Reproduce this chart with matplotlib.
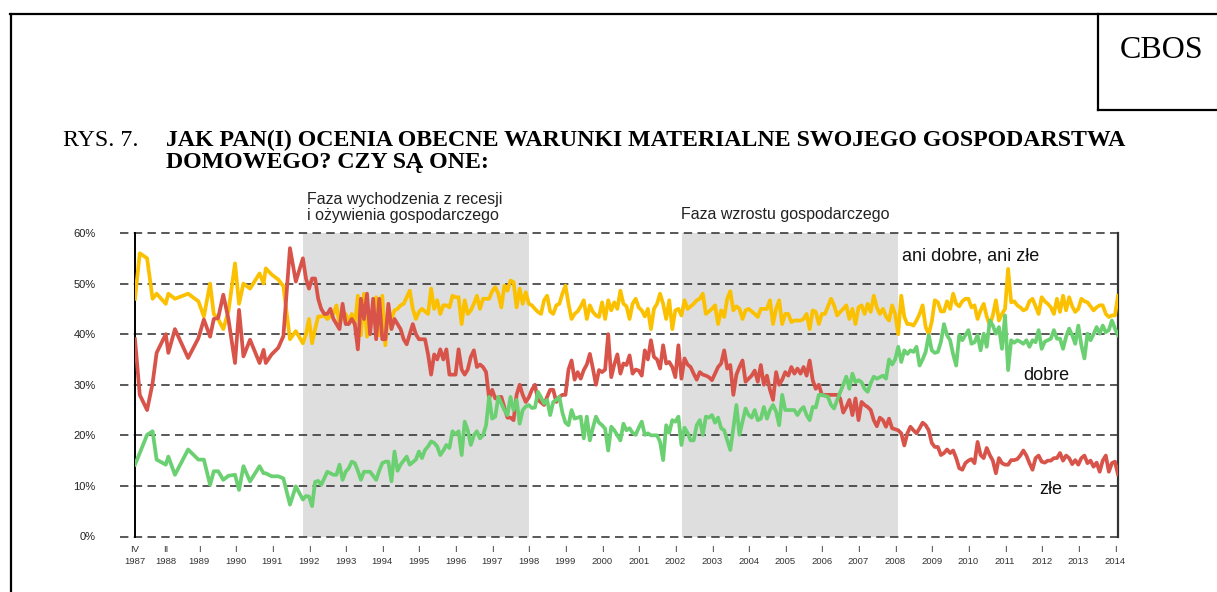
import numpy as np
import matplotlib
matplotlib.use("Agg")
import matplotlib.pyplot as plt
from matplotlib.lines import Line2D

plt.rcParams["font.family"] = ["Liberation Sans", "DejaVu Sans"]

# ── Dane: wczesne badania (nieregularne terminy) ─────────────
early_dates = [1987.25, 1987.38, 1987.58, 1987.73, 1987.84, 1988.09, 1988.16,
               1988.34, 1988.70, 1988.98, 1989.13, 1989.30, 1989.40, 1989.52,
               1989.66, 1989.80, 1989.98, 1990.09, 1990.21, 1990.39, 1990.65,
               1990.76, 1990.82, 1990.98, 1991.16, 1991.30, 1991.48, 1991.64]
early_ani = [47, 56, 55, 47, 48, 46, 48, 47, 48, 46.5, 43.5, 50, 44, 43,
             41, 44.5, 54, 46, 50, 49, 52, 50, 53, 51.8, 50.8, 49.5, 39, 40.6]
early_zle = [39, 28, 25, 30.3, 36.3, 40, 36.3, 41, 35.3, 39.2, 42.9, 39.5, 43, 43.2,
             47.8, 43, 34.3, 44.8, 35.6, 38.9, 34.3, 36.9, 34.3, 36, 37.3, 39.6, 57, 50.4]
early_dobre = [14.2, 16.5, 20.1, 20.8, 15.2, 14.2, 15.8, 12.2, 17.2, 15.2, 15.2, 10.2, 12.9, 12.9,
               11.2, 12, 12.2, 9.2, 13.9, 10.9, 13.9, 12.5, 12.5, 11.9, 11.9, 11.5, 6.3, 9.9]

# ── Dane miesięczne: od XI 1991 do II 2014 ───────────────────
monthly_start = "1991-11"
ani_monthly = [
    38.2, 40,
    43, 38.2, 41, 43.5, 43.5, 43.7, 43, 43.5, 44, 45.7, 42, 43.7,            # 1992
    44, 42.4, 44, 41.7, 47.6, 39.8, 48, 39.5, 41, 44, 47.3, 39.8,            # 1993
    47.6, 37.8, 45, 43, 44.7, 45, 45.7, 46, 47.3, 48.6, 45, 43,              # 1994
    44.4, 45, 44.5, 44, 49, 45, 46.7, 44, 45.7, 45.7, 45.3, 47.6,            # 1995
    47.3, 47.3, 42, 46.7, 44, 44.7, 46, 47.6, 45, 47, 47, 47,                # 1996
    48.5, 49.3, 48, 45.3, 49.6, 48.6, 50.6, 50.3, 45.3, 49, 46, 48.3,        # 1997
    46, 45.7, 45, 44.4, 44, 46.7, 47.6, 44.5, 44, 45.7, 46, 48,              # 1998
    49.6, 46, 43, 44, 44.5, 45.5, 46.7, 43, 45.7, 44.4, 43.7, 43.4,          # 1999
    46.3, 43, 46.7, 44.7, 46.3, 45, 48.6, 46, 45.5, 43, 46, 47,              # 2000
    45.3, 44.7, 43.5, 45, 41, 45, 46, 48, 46, 43, 46.7, 41,                  # 2001
    44.7, 45, 43.7, 46.7, 45, 45.5, 46, 46.7, 47, 48, 44, 44.5,              # 2002
    45, 45.7, 42, 44.7, 43.4, 47, 48.5, 44.7, 45.5, 45, 43, 44.7,            # 2003
    45, 44.5, 44, 43.4, 45, 45, 45, 46.7, 42, 45, 46.7, 42,                  # 2004
    44, 44, 42.4, 42.7, 42.7, 42.7, 43, 44, 41, 44.7, 44.4, 42,              # 2005
    44, 44, 45.5, 47, 45.7, 43.7, 44.4, 45, 45.7, 43, 45, 42,                # 2006
    45.3, 45.7, 44, 46, 44.4, 47.6, 45.3, 44, 45, 43.5, 42.7, 45.7,          # 2007
    44, 40, 47.6, 43.4, 42, 42, 41.7, 42.7, 44, 45.7, 41.4, 40,              # 2008
    42.5, 46.7, 46.3, 44.5, 44.5, 46.5, 45, 48, 46, 45.5, 46.5, 47,          # 2009
    47, 45.3, 45.7, 43, 44.7, 46, 43.5, 41.7, 43.7, 46.7, 42.7, 44,          # 2010
    45, 52.9, 46.3, 46.5, 45.7, 45.3, 44.7, 45, 46.5, 47, 45.5, 44,          # 2011
    47.3, 46.5, 46, 45.3, 44, 47, 44.4, 47.6, 44.7, 47.3, 45.5, 44.4,        # 2012
    45, 47, 46.5, 46.3, 45.5, 44.7, 45.3, 45.7, 45.7, 44, 43.4, 43.7,        # 2013
    43.7, 47.6,                                                              # 2014
]
zle_monthly = [
    55, 51,
    49, 51, 51, 47, 45, 44, 44, 45, 43, 42, 41, 46,                          # 1992
    42, 42, 43, 42, 37, 47, 43, 48, 40, 47, 39, 47,                          # 1993
    39, 39, 46, 41, 43, 42, 41, 39, 38, 40, 42, 40,                          # 1994
    39, 39, 39, 36, 32, 36, 35, 37, 35, 37, 32, 32,                          # 1995
    32, 37, 33, 32, 33, 35.5, 36.8, 33.5, 34, 33.5, 32.5, 27.3,              # 1996
    29, 27.3, 27.5, 27.6, 25.5, 23.5, 23.5, 23, 28, 30, 28, 26.6,            # 1997
    27.5, 29, 30, 27, 26.5, 26, 27.6, 29, 29, 26.6, 27.6, 28,                # 1998
    28, 33, 34.8, 31, 32.5, 31.2, 32.9, 34, 36.1, 33.2, 30, 32.9,            # 1999
    32.5, 33, 40, 31.5, 34, 36, 32.2, 34.2, 33.9, 35.8, 32.2, 33,            # 2000
    32.8, 31.8, 36.8, 35, 38.8, 35.5, 35, 33.2, 37.8, 34.2, 34.5, 33.5,      # 2001
    31.5, 37.8, 31.2, 35.2, 34, 33.5, 32.2, 31, 32.5, 32, 31.8, 31.5,        # 2002
    30.9, 32.2, 33.5, 34.2, 36.8, 33.2, 33.9, 28, 32, 33.5, 34.8, 30.6,      # 2003
    31.2, 31.8, 32.8, 30.6, 33.9, 30, 31.8, 29, 27, 32.5, 30, 31,            # 2004
    32.5, 31.8, 33.5, 32.2, 33.2, 32.2, 33.5, 31.8, 34.8, 30.9, 29.2, 30,    # 2005
    28, 28, 28, 28, 28, 28, 27.3, 24.5, 25.6, 27, 24, 27.3,                  # 2006
    23, 26.6, 26, 25.6, 25, 23, 21.8, 23.5, 23, 21.7, 23.3, 21.4,            # 2007
    21.2, 21, 20.4, 18, 20.4, 21.7, 21, 20.4, 21.4, 22.5, 22, 21,            # 2008
    18.5, 17.7, 17.7, 16.1, 16.5, 17.2, 16.5, 17, 15.5, 13.5, 13.2, 14.5,    # 2009
    15, 15.3, 14.5, 18.7, 16.1, 15.5, 17.5, 16.1, 15, 12.5, 15.5, 14.5,      # 2010
    14.2, 14.2, 15.1, 15.1, 15.3, 16, 17, 16, 14.5, 13.2, 15.5, 16,          # 2011
    14.8, 14.6, 15, 15, 15.5, 15.5, 16.5, 15, 16, 15.5, 14.3, 15.1,          # 2012
    14.2, 15.5, 16, 14.5, 15, 13.8, 14.6, 12.8, 15, 16, 12.8, 14.5,          # 2013
    14.8, 12.3,                                                              # 2014
]
dobre_monthly = [
    7.3, 8,
    7.9, 6, 10.8, 11, 10.2, 11.5, 12.8, 12.5, 12.2, 12.2, 14.2, 11.2,        # 1992
    12.8, 13.5, 14.8, 14.5, 13, 11.2, 12.8, 12.8, 12.8, 12, 11.2, 13,        # 1993
    14.5, 14.8, 14.8, 10.9, 16.8, 13, 14.2, 15, 15.8, 14.2, 14.7, 15.2,      # 1994
    16.8, 15.5, 17.1, 17.8, 18.8, 18.5, 17.8, 16.1, 17, 18.1, 17.5, 20.8,    # 1995
    20.2, 20.8, 16.1, 22.7, 21, 18.1, 20, 20.8, 19.4, 20, 22, 27.6,          # 1996
    23.3, 23.7, 27.6, 26.3, 25, 24, 27.6, 25, 27, 22.3, 25, 25.7,            # 1997
    26, 25.4, 25.5, 28.6, 27.5, 26.3, 27, 24, 26.6, 27, 27.6, 24.5,          # 1998
    22.5, 22, 25, 23.3, 23.5, 23.7, 19.4, 23.7, 19, 21.5, 23.7, 22.5,        # 1999
    22, 21.3, 17, 21.7, 21, 20, 19, 22.3, 21, 21.4, 20.5, 20.1,              # 2000
    21.5, 22.7, 20.1, 20.4, 20, 20, 20, 18.7, 15.1, 22, 20.5, 23,            # 2001
    22.7, 23.7, 18.1, 21.5, 20.5, 19, 19, 22, 23, 20.1, 23.7, 23.5,          # 2002
    24, 22.5, 23.5, 21.4, 21, 19, 17.1, 21.4, 26, 20.1, 22.7, 25.3,          # 2003
    24, 23.5, 25, 23, 23.3, 25.6, 23.3, 25, 26, 24.7, 22, 28,                # 2004
    25, 25, 25, 25, 24, 25, 25.6, 24, 23, 25.6, 25.5, 28,                    # 2005
    28, 27.8, 27.6, 26, 25.3, 27, 28.5, 30, 31.6, 29.2, 32.2, 30.5,          # 2006
    30.9, 30.5, 29.2, 28.6, 30.3, 31.6, 31.2, 31.5, 31.8, 31.2, 35, 34,      # 2007
    35, 37.5, 34.5, 36.8, 36.1, 36.8, 36.5, 37.5, 33.8, 35, 36.5, 39.8,      # 2008
    36.8, 36.3, 36.5, 38.5, 42, 39.8, 38.8, 36, 33.8, 39.8, 38.8, 39.8,      # 2009
    40.8, 38.1, 38.4, 39.8, 36.8, 40.1, 37.5, 42.7, 41.7, 40.1, 41.4, 37.1,  # 2010
    43.7, 32.9, 38.8, 38.3, 38.8, 38.5, 38.1, 38.8, 37.5, 38.8, 38.4, 40.8,  # 2011
    37.1, 38.5, 38.8, 39.1, 40.8, 39.1, 39.1, 37.1, 39.5, 41.1, 39.8, 38.1,  # 2012
    41.7, 37.8, 35.2, 40.1, 38.8, 40, 41.4, 40.1, 41.7, 40.4, 40.8, 42.7,    # 2013
    41.1, 39.8,                                                              # 2014
]

# fazy gospodarcze (szare tło)
phases = [(1991.83, 1998.0), (2002.17, 2008.07)]

tick_years = [1987.25, 1988 + 1 / 12] + list(range(1989, 2015))
tick_labels = ["IV\n1987", "II\n1988"] + [f"I\n{y}" for y in range(1989, 2015)]

# ── Przygotowanie osi czasu ───────────────────────────────────
def to_dates(values):
    start = int(monthly_start[:4]) + (int(monthly_start[5:]) - 1) / 12
    months = start + np.arange(len(values)) / 12
    return early_dates + list(months)

series = [
    (early_ani + ani_monthly, "#FBC100"),
    (early_zle + zle_monthly, "#D8544A"),
    (early_dobre + dobre_monthly, "#6BD071"),
]

# ── Rysunek ──────────────────────────────────────────────────
W, H = 1217, 592
fig = plt.figure(figsize=(W / 100, H / 100), dpi=100)


def fx(px):
    return px / W


def fy(py):
    return 1 - py / H


# ramka strony i pole CBOS
for xs, ys in [([10, W], [14, 14]), ([11, 11], [14, H]),
               ([1098, 1098], [14, 110]), ([1098, W], [110, 110])]:
    fig.add_artist(Line2D([fx(x) for x in xs], [fy(y) for y in ys],
                          color="black", lw=1.6))
fig.text(fx(1162), fy(50), "CBOS", family="Liberation Serif", fontsize=23,
         ha="center", va="center")

# tytuł
fig.text(fx(63), fy(146), "RYS. 7.", family="Liberation Serif", fontsize=17.2,
         va="baseline")
fig.text(fx(166), fy(146),
         "JAK PAN(I) OCENIA OBECNE WARUNKI MATERIALNE SWOJEGO GOSPODARSTWA",
         family="Liberation Serif", fontsize=17.2, weight="bold", va="baseline")
fig.text(fx(166), fy(168), "DOMOWEGO? CZY SĄ ONE:",
         family="Liberation Serif", fontsize=17.2, weight="bold", va="baseline")

ax = fig.add_axes([fx(135), fy(536.5), (1118 - 135) / W, (536.5 - 233) / H])
all_dates = to_dates(ani_monthly)
ax.set_xlim(early_dates[0], all_dates[-1])
ax.set_ylim(0, 60)

for a, b in phases:
    ax.axvspan(a, b, color="#DEDEDE", lw=0, zorder=0)

for v in range(0, 70, 10):
    ax.axhline(v, xmin=-0.0153, xmax=1, color="#2b2b2b", lw=1.1,
               dashes=(5.5, 3.5), clip_on=False, zorder=1)

for values, color in series:
    ax.plot(to_dates(values[len(early_dates):]), values, color=color,
            lw=2.7, zorder=3)

for side in ["top", "bottom"]:
    ax.spines[side].set_visible(False)
ax.spines["left"].set_linewidth(1.4)
ax.spines["right"].set_linewidth(1.6)
ax.spines["right"].set_color("#333333")

ax.set_yticks(range(0, 70, 10))
ax.set_yticklabels([f"{v}%" for v in range(0, 70, 10)])
ax.tick_params(axis="y", length=0, pad=28.5, labelsize=8, labelcolor="#222222")
ax.set_xticks(tick_years)
ax.set_xticklabels(tick_labels)
ax.tick_params(axis="x", length=0, pad=6, labelsize=6.8, labelcolor="#333333")
for lbl in ax.get_xticklabels():
    lbl.set_linespacing(1.4)

# opisy
fig.text(fx(307), fy(204), "Faza wychodzenia z recesji", fontsize=11.5,
         va="baseline", color="#222222")
fig.text(fx(307), fy(220), "i ożywienia gospodarczego", fontsize=11.5,
         va="baseline", color="#222222")
fig.text(fx(681), fy(219), "Faza wzrostu gospodarczego", fontsize=11.5,
         va="baseline", color="#222222")
fig.text(fx(902), fy(260.5), "ani dobre, ani złe", fontsize=13,
         va="baseline", color="#111111")
fig.text(fx(1023), fy(380), "dobre", fontsize=13, va="baseline",
         color="#111111")
fig.text(fx(1039), fy(494), "złe", fontsize=13, va="baseline",
         color="#111111",
         bbox=dict(facecolor="white", edgecolor="none", pad=5))

fig.savefig("out.png", dpi=100)
